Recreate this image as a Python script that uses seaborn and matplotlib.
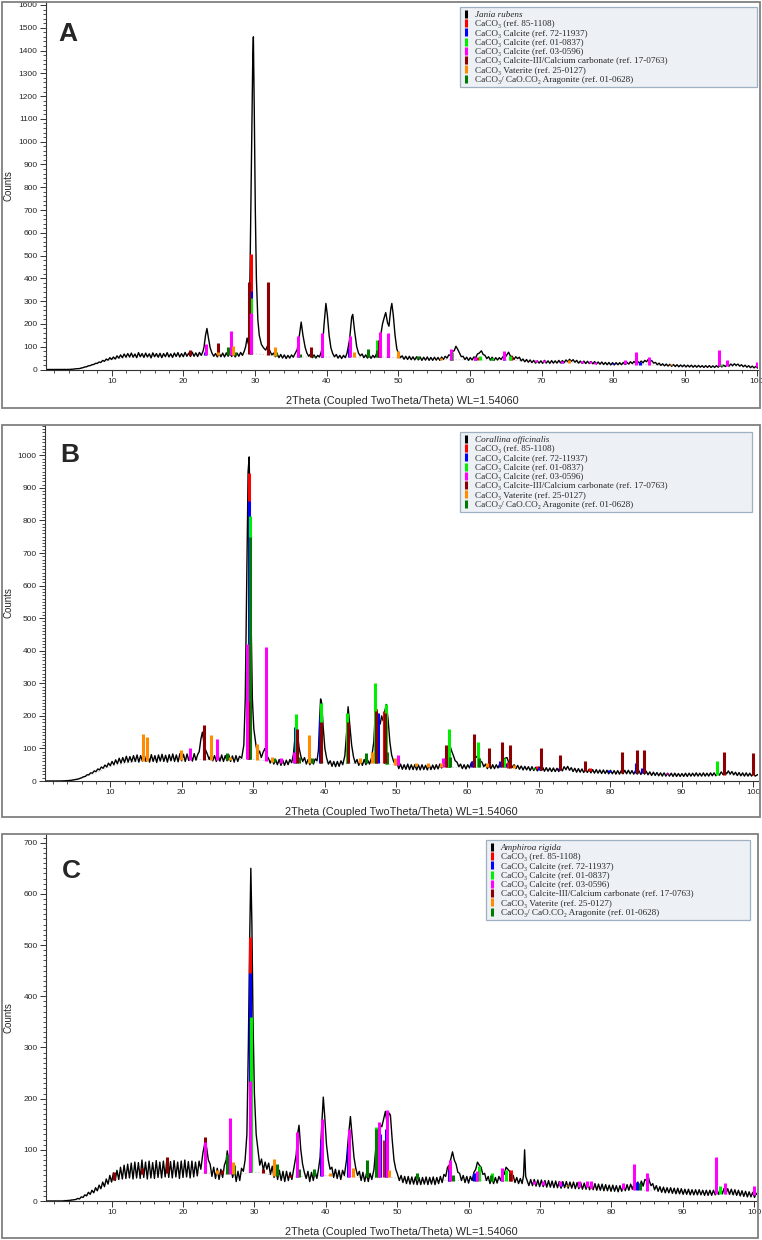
import matplotlib
matplotlib.use("Agg")
import matplotlib.pyplot as plt
import seaborn as sns
import pandas as pd
import numpy as np
from matplotlib.lines import Line2D
from matplotlib.patches import Rectangle
from matplotlib.ticker import MultipleLocator

W, H = 762, 1240

A_TRACE = [
    (1, 0), (2, 0), (3, 0), (4, 0), (4.5, 1), (5, 3), (5.5, 4), (6, 8), (6.25, 11), (6.5, 12), (6.75, 16),
    (7, 17), (7.25, 21), (7.5, 22), (7.75, 27), (8, 27), (8.25, 33), (8.5, 31), (8.75, 40), (9, 36),
    (9.25, 46), (9.5, 41), (9.75, 52), (10, 44), (10.25, 55), (10.5, 46), (10.75, 60), (11, 50),
    (11.25, 64), (11.5, 52), (11.75, 68), (12, 54), (12.25, 70), (12.5, 55), (12.75, 72), (13, 54),
    (13.25, 68), (13.5, 52), (13.75, 74), (14, 56), (14.25, 70), (14.5, 53), (14.75, 72), (15, 55),
    (15.25, 69), (15.5, 51), (15.75, 73), (16, 56), (16.25, 70), (16.5, 54), (16.75, 71), (17, 52),
    (17.25, 70), (17.5, 56), (17.75, 74), (18, 55), (18.25, 69), (18.5, 53), (18.75, 72), (19, 57),
    (19.25, 74), (19.5, 55), (19.75, 70), (20, 56), (20.25, 75), (20.5, 58), (20.75, 72), (21, 57),
    (21.25, 76), (21.5, 58), (21.75, 73), (22, 57), (22.25, 75), (22.5, 62), (22.75, 80), (22.9, 100),
    (23.1, 150), (23.3, 180), (23.5, 140), (23.75, 95), (24, 72), (24.25, 58), (24.5, 70), (24.75, 55),
    (25, 71), (25.25, 56), (25.5, 72), (25.75, 55), (26, 73), (26.25, 58), (26.5, 74), (26.75, 57),
    (27, 70), (27.25, 55), (27.5, 72), (27.75, 58), (28, 75), (28.25, 62), (28.5, 80), (28.7, 100),
    (28.9, 138), (29.1, 110), (29.3, 400), (29.5, 900), (29.7, 1380), (29.78, 1460), (29.9, 1150),
    (30.05, 700), (30.2, 400), (30.4, 220), (30.6, 150), (30.9, 110), (31.2, 95), (31.5, 85), (31.8, 108),
    (32.1, 80), (32.35, 64), (32.6, 72), (32.85, 56), (33.1, 68), (33.35, 52), (33.6, 66), (33.85, 50),
    (34.1, 64), (34.35, 48), (34.6, 62), (34.85, 50), (35.1, 64), (35.35, 54), (35.6, 70), (35.9, 88),
    (36.2, 150), (36.45, 208), (36.7, 150), (37, 98), (37.25, 72), (37.5, 58), (37.75, 68), (38, 52),
    (38.25, 64), (38.5, 50), (38.75, 62), (39, 55), (39.2, 72), (39.4, 95), (39.65, 200), (39.9, 290),
    (40.1, 240), (40.35, 150), (40.6, 95), (40.85, 70), (41.1, 56), (41.35, 66), (41.6, 50), (41.85, 62),
    (42.1, 48), (42.35, 62), (42.6, 52), (42.85, 72), (43.2, 130), (43.5, 230), (43.65, 242), (43.9, 170),
    (44.2, 100), (44.45, 72), (44.7, 60), (44.95, 68), (45.2, 52), (45.45, 64), (45.7, 50), (45.95, 62),
    (46.2, 49), (46.45, 62), (46.7, 52), (46.95, 68), (47.2, 90), (47.5, 140), (47.8, 200), (48.1, 235),
    (48.25, 250), (48.5, 205), (48.7, 190), (48.95, 265), (49.1, 290), (49.3, 240), (49.55, 150),
    (49.8, 90), (50.05, 68), (50.3, 52), (50.55, 60), (50.8, 45), (51.05, 58), (51.3, 44), (51.55, 58),
    (51.8, 43), (52.05, 56), (52.3, 42), (52.55, 56), (52.8, 42), (53.05, 55), (53.3, 40), (53.55, 54),
    (53.8, 41), (54.05, 55), (54.3, 40), (54.55, 53), (54.8, 40), (55.05, 54), (55.3, 41), (55.55, 53),
    (55.8, 40), (56.05, 55), (56.3, 44), (56.55, 58), (56.8, 50), (57.05, 64), (57.3, 62), (57.55, 80),
    (57.8, 82), (58.05, 102), (58.3, 88), (58.55, 72), (58.8, 56), (59.05, 58), (59.3, 44), (59.55, 54),
    (59.8, 40), (60.05, 52), (60.3, 42), (60.55, 55), (60.8, 52), (61.05, 68), (61.3, 72), (61.6, 82),
    (61.85, 66), (62.1, 62), (62.35, 48), (62.6, 56), (62.85, 42), (63.1, 54), (63.35, 40), (63.6, 52),
    (63.85, 42), (64.1, 52), (64.35, 44), (64.6, 56), (64.85, 50), (65.1, 62), (65.4, 76), (65.65, 58),
    (65.9, 58), (66.15, 44), (66.4, 56), (66.65, 48), (66.9, 54), (67.15, 38), (67.4, 46), (67.65, 34),
    (67.9, 44), (68.15, 32), (68.4, 42), (68.65, 30), (68.9, 40), (69.15, 28), (69.4, 38), (69.65, 28),
    (69.9, 38), (70.15, 27), (70.4, 40), (70.65, 28), (70.9, 38), (71.15, 27), (71.4, 39), (71.65, 28),
    (71.9, 38), (72.15, 28), (72.4, 40), (72.65, 29), (72.9, 39), (73.15, 30), (73.4, 42), (73.65, 34),
    (73.9, 45), (74.15, 36), (74.4, 43), (74.65, 32), (74.9, 40), (75.15, 28), (75.4, 37), (75.65, 27),
    (75.9, 37), (76.15, 26), (76.4, 36), (76.65, 26), (76.9, 35), (77.15, 25), (77.4, 35), (77.65, 24),
    (77.9, 33), (78.15, 23), (78.4, 33), (78.65, 22), (78.9, 31), (79.15, 21), (79.4, 31), (79.65, 20),
    (79.9, 30), (80.15, 20), (80.4, 30), (80.65, 21), (80.9, 30), (81.15, 21), (81.4, 31), (81.65, 22),
    (81.9, 32), (82.15, 24), (82.4, 34), (82.65, 26), (82.9, 35), (83.15, 27), (83.4, 36), (83.65, 28),
    (83.9, 37), (84.15, 29), (84.4, 40), (84.65, 34), (84.9, 45), (85.15, 40), (85.4, 38), (85.65, 28),
    (85.9, 31), (86.15, 21), (86.4, 28), (86.65, 18), (86.9, 25), (87.15, 16), (87.4, 24), (87.65, 15),
    (87.9, 23), (88.15, 14), (88.4, 22), (88.65, 13), (88.9, 21), (89.15, 12), (89.4, 20), (89.65, 12),
    (89.9, 20), (90.15, 11), (90.4, 19), (90.65, 11), (90.9, 19), (91.15, 10), (91.4, 18), (91.65, 10),
    (91.9, 18), (92.15, 10), (92.4, 17), (92.65, 9), (92.9, 17), (93.15, 9), (93.4, 17), (93.65, 9),
    (93.9, 16), (94.15, 9), (94.4, 17), (94.65, 10), (94.9, 18), (95.15, 11), (95.4, 19), (95.65, 13),
    (95.9, 21), (96.15, 15), (96.4, 24), (96.65, 17), (96.9, 25), (97.15, 18), (97.4, 24), (97.65, 15),
    (97.9, 21), (98.15, 12), (98.4, 19), (98.65, 10), (98.9, 17), (99.15, 8), (99.4, 15), (99.65, 7),
    (99.9, 14), (100.15, 6), (100.3, 12),
]

B_TRACE = [
    (1, 0), (2, 0), (3, 0), (4, 1), (4.5, 2), (5, 4), (5.5, 6), (6, 10), (6.25, 13), (6.5, 14), (6.75, 19),
    (7, 19), (7.25, 25), (7.5, 24), (7.75, 31), (8, 29), (8.25, 37), (8.5, 34), (8.75, 43), (9, 39),
    (9.25, 49), (9.5, 43), (9.75, 55), (10, 47), (10.25, 60), (10.5, 50), (10.75, 65), (11, 53),
    (11.25, 70), (11.5, 55), (11.75, 72), (12, 57), (12.25, 76), (12.5, 58), (12.75, 75), (13, 59),
    (13.25, 78), (13.5, 60), (13.75, 80), (14, 58), (14.25, 78), (14.5, 61), (14.75, 80), (15, 60),
    (15.25, 79), (15.5, 58), (15.75, 81), (16, 60), (16.25, 78), (16.5, 57), (16.75, 80), (17, 61),
    (17.25, 82), (17.5, 60), (17.75, 79), (18, 58), (18.25, 81), (18.5, 62), (18.75, 83), (19, 60),
    (19.25, 80), (19.5, 59), (19.75, 84), (20, 62), (20.25, 82), (20.5, 60), (20.75, 83), (21, 63),
    (21.25, 81), (21.5, 61), (21.75, 84), (22, 64), (22.25, 82), (22.45, 90), (22.7, 130), (22.9, 150),
    (23.1, 120), (23.35, 95), (23.6, 82), (23.85, 66), (24.1, 80), (24.35, 62), (24.6, 78), (24.85, 60),
    (25.1, 79), (25.35, 61), (25.6, 80), (25.85, 60), (26.1, 78), (26.35, 62), (26.6, 80), (26.85, 60),
    (27.1, 77), (27.35, 58), (27.6, 78), (27.85, 60), (28.1, 76), (28.4, 70), (28.7, 110), (28.9, 250),
    (29.1, 600), (29.3, 950), (29.45, 995), (29.6, 780), (29.75, 450), (29.9, 250), (30.1, 160),
    (30.4, 110), (30.65, 80), (30.9, 92), (31.15, 72), (31.4, 88), (31.65, 100), (31.9, 78), (32.15, 70),
    (32.4, 55), (32.65, 68), (32.9, 52), (33.15, 66), (33.4, 50), (33.65, 66), (33.9, 48), (34.15, 64),
    (34.4, 48), (34.65, 64), (34.9, 50), (35.15, 66), (35.4, 56), (35.65, 82), (35.85, 130), (36.0, 165),
    (36.2, 150), (36.45, 100), (36.7, 75), (36.95, 60), (37.2, 72), (37.45, 52), (37.7, 66), (37.95, 50),
    (38.2, 66), (38.45, 52), (38.7, 68), (38.95, 62), (39.15, 95), (39.3, 180), (39.45, 252), (39.6, 240),
    (39.8, 170), (40.05, 100), (40.3, 70), (40.55, 52), (40.8, 62), (41.05, 45), (41.3, 60), (41.55, 44),
    (41.8, 60), (42.05, 45), (42.3, 62), (42.55, 50), (42.85, 78), (43.1, 150), (43.3, 228), (43.5, 180),
    (43.8, 110), (44.05, 75), (44.3, 55), (44.55, 66), (44.8, 48), (45.05, 64), (45.3, 48), (45.55, 66),
    (45.8, 50), (46.05, 64), (46.3, 52), (46.6, 72), (46.9, 120), (47.1, 205), (47.3, 220), (47.55, 190),
    (47.8, 175), (48.0, 200), (48.2, 185), (48.45, 215), (48.65, 235), (48.9, 190), (49.15, 120),
    (49.4, 80), (49.65, 62), (49.9, 50), (50.15, 56), (50.4, 38), (50.65, 52), (50.9, 36), (51.15, 50),
    (51.4, 36), (51.65, 52), (51.9, 35), (52.15, 50), (52.4, 35), (52.65, 50), (52.9, 34), (53.15, 49),
    (53.4, 34), (53.65, 50), (53.9, 35), (54.15, 48), (54.4, 34), (54.65, 50), (54.9, 35), (55.15, 49),
    (55.4, 36), (55.65, 50), (55.9, 37), (56.15, 52), (56.4, 40), (56.65, 60), (56.9, 65), (57.15, 90),
    (57.35, 100), (57.55, 110), (57.8, 92), (58.05, 78), (58.3, 62), (58.55, 58), (58.8, 44), (59.05, 52),
    (59.3, 38), (59.55, 50), (59.8, 37), (60.05, 50), (60.3, 40), (60.55, 56), (60.8, 58), (61.05, 70),
    (61.3, 74), (61.55, 80), (61.8, 62), (62.05, 58), (62.3, 44), (62.55, 52), (62.8, 38), (63.05, 50),
    (63.3, 38), (63.55, 50), (63.8, 38), (64.05, 50), (64.3, 40), (64.55, 54), (64.8, 52), (65.05, 66),
    (65.3, 70), (65.55, 72), (65.8, 56), (66.05, 54), (66.3, 42), (66.55, 50), (66.8, 38), (67.05, 48),
    (67.3, 36), (67.55, 46), (67.8, 34), (68.05, 45), (68.3, 34), (68.55, 44), (68.8, 32), (69.05, 44),
    (69.3, 32), (69.55, 42), (69.8, 31), (70.05, 43), (70.3, 32), (70.55, 42), (70.8, 30), (71.05, 41),
    (71.3, 30), (71.55, 40), (71.8, 29), (72.05, 40), (72.3, 29), (72.55, 39), (72.8, 29), (73.05, 40),
    (73.3, 31), (73.55, 44), (73.8, 35), (74.05, 45), (74.3, 33), (74.55, 41), (74.8, 29), (75.05, 39),
    (75.3, 27), (75.55, 38), (75.8, 27), (76.05, 37), (76.3, 26), (76.55, 37), (76.8, 26), (77.05, 36),
    (77.3, 25), (77.55, 35), (77.8, 24), (78.05, 35), (78.3, 24), (78.55, 34), (78.8, 23), (79.05, 34),
    (79.3, 23), (79.55, 33), (79.8, 22), (80.05, 33), (80.3, 22), (80.55, 32), (80.8, 21), (81.05, 32),
    (81.3, 21), (81.55, 32), (81.8, 22), (82.05, 33), (82.3, 22), (82.55, 33), (82.8, 22), (83.05, 32),
    (83.3, 21), (83.55, 32), (83.8, 21), (84.05, 31), (84.3, 20), (84.55, 31), (84.8, 21), (85.05, 30),
    (85.3, 19), (85.55, 28), (85.8, 17), (86.05, 27), (86.3, 17), (86.55, 26), (86.8, 16), (87.05, 25),
    (87.3, 15), (87.55, 25), (87.8, 15), (88.05, 24), (88.3, 15), (88.55, 24), (88.8, 14), (89.05, 24),
    (89.3, 14), (89.55, 23), (89.8, 14), (90.05, 23), (90.3, 14), (90.55, 24), (90.8, 14), (91.05, 24),
    (91.3, 15), (91.55, 24), (91.8, 15), (92.05, 25), (92.3, 15), (92.55, 24), (92.8, 15), (93.05, 25),
    (93.3, 15), (93.55, 24), (93.8, 15), (94.05, 25), (94.3, 16), (94.55, 25), (94.8, 16), (95.05, 26),
    (95.3, 18), (95.55, 28), (95.8, 20), (96.05, 30), (96.3, 22), (96.55, 31), (96.8, 21), (97.05, 29),
    (97.3, 19), (97.55, 27), (97.8, 17), (98.05, 26), (98.3, 16), (98.55, 25), (98.8, 15), (99.05, 25),
    (99.3, 15), (99.55, 24), (99.8, 15), (100.05, 24), (100.3, 15), (100.7, 20),
]

C_TRACE = [
    (1, 0), (2, 0), (3, 0), (4, 1), (4.5, 2), (5, 3), (5.25, 5), (5.5, 4), (5.75, 8), (6, 7), (6.25, 12),
    (6.5, 10), (6.75, 17), (7, 13), (7.25, 21), (7.5, 16), (7.75, 26), (8, 20), (8.25, 31), (8.5, 24),
    (8.75, 37), (9, 28), (9.25, 43), (9.5, 33), (9.75, 50), (10, 37), (10.25, 55), (10.5, 40), (10.75, 60),
    (11, 42), (11.25, 66), (11.5, 43), (11.75, 70), (12, 44), (12.25, 72), (12.5, 45), (12.75, 74),
    (13, 43), (13.25, 76), (13.5, 45), (13.75, 75), (14, 44), (14.25, 80), (14.5, 46), (14.75, 76),
    (15, 43), (15.25, 78), (15.5, 45), (15.75, 75), (16, 44), (16.25, 79), (16.5, 46), (16.75, 76),
    (17, 45), (17.25, 78), (17.5, 47), (17.75, 82), (18, 46), (18.25, 77), (18.5, 45), (18.75, 79),
    (19, 47), (19.25, 76), (19.5, 44), (19.75, 78), (20, 46), (20.25, 80), (20.5, 47), (20.75, 77),
    (21, 45), (21.25, 78), (21.5, 47), (21.75, 76), (22, 49), (22.25, 78), (22.5, 62), (22.8, 95),
    (23.05, 112), (23.3, 105), (23.55, 80), (23.8, 72), (24.05, 48), (24.3, 66), (24.55, 44), (24.8, 64),
    (25.05, 42), (25.3, 62), (25.55, 46), (25.8, 70), (26.05, 80), (26.2, 98), (26.45, 72), (26.7, 68),
    (26.95, 46), (27.2, 62), (27.45, 38), (27.7, 58), (27.95, 40), (28.2, 64), (28.45, 58), (28.7, 80),
    (28.95, 130), (29.15, 300), (29.35, 520), (29.5, 650), (29.65, 540), (29.8, 360), (30.0, 210),
    (30.25, 130), (30.5, 100), (30.75, 70), (31.0, 82), (31.25, 60), (31.5, 76), (31.75, 62), (32.0, 74),
    (32.25, 52), (32.5, 68), (32.75, 46), (33.0, 64), (33.25, 42), (33.5, 60), (33.75, 40), (34.0, 58),
    (34.25, 38), (34.5, 58), (34.75, 40), (35.0, 56), (35.25, 42), (35.5, 62), (35.85, 90), (36.1, 135),
    (36.25, 148), (36.5, 100), (36.75, 72), (37.0, 56), (37.25, 44), (37.5, 58), (37.75, 38), (38.0, 56),
    (38.25, 40), (38.5, 58), (38.75, 44), (39.0, 64), (39.2, 85), (39.4, 140), (39.65, 203), (39.85, 165),
    (40.1, 110), (40.35, 80), (40.6, 62), (40.85, 66), (41.1, 46), (41.35, 62), (41.6, 44), (41.85, 60),
    (42.1, 42), (42.35, 60), (42.6, 50), (42.9, 80), (43.2, 130), (43.45, 165), (43.7, 125), (43.95, 85),
    (44.2, 64), (44.45, 50), (44.7, 58), (44.95, 40), (45.2, 56), (45.45, 38), (45.7, 54), (45.95, 38),
    (46.2, 54), (46.45, 42), (46.75, 62), (47.05, 110), (47.35, 140), (47.6, 150), (47.85, 145),
    (48.1, 160), (48.35, 175), (48.6, 150), (48.85, 172), (49.05, 168), (49.3, 120), (49.55, 80),
    (49.8, 62), (50.05, 52), (50.3, 40), (50.55, 50), (50.8, 36), (51.05, 48), (51.3, 34), (51.55, 48),
    (51.8, 33), (52.05, 47), (52.3, 33), (52.55, 47), (52.8, 32), (53.05, 46), (53.3, 32), (53.55, 46),
    (53.8, 33), (54.05, 47), (54.3, 32), (54.55, 46), (54.8, 33), (55.05, 47), (55.3, 32), (55.55, 46),
    (55.8, 34), (56.05, 48), (56.3, 36), (56.55, 52), (56.8, 48), (57.05, 66), (57.3, 70), (57.55, 84),
    (57.75, 96), (58.0, 80), (58.25, 72), (58.5, 56), (58.75, 54), (59.0, 40), (59.25, 50), (59.5, 36),
    (59.75, 48), (60.0, 35), (60.25, 48), (60.5, 40), (60.75, 56), (61.0, 62), (61.25, 76), (61.5, 70),
    (61.75, 66), (62.0, 52), (62.25, 54), (62.5, 40), (62.75, 48), (63.0, 34), (63.25, 46), (63.5, 34),
    (63.75, 46), (64.0, 35), (64.25, 48), (64.5, 40), (64.75, 56), (65.0, 52), (65.25, 66), (65.5, 62),
    (65.75, 58), (66.0, 44), (66.25, 50), (66.5, 36), (66.75, 46), (67.0, 34), (67.25, 44), (67.5, 34),
    (67.7, 50), (67.85, 100), (68.0, 48), (68.2, 40), (68.45, 30), (68.7, 42), (68.95, 30), (69.2, 42),
    (69.45, 29), (69.7, 41), (69.95, 28), (70.2, 41), (70.45, 28), (70.7, 40), (70.95, 27), (71.2, 40),
    (71.45, 27), (71.7, 39), (71.95, 26), (72.2, 39), (72.45, 26), (72.7, 38), (72.95, 25), (73.2, 38),
    (73.45, 26), (73.7, 38), (73.95, 25), (74.2, 37), (74.45, 25), (74.7, 37), (74.95, 24), (75.2, 36),
    (75.45, 24), (75.7, 36), (75.95, 23), (76.2, 35), (76.45, 23), (76.7, 35), (76.95, 22), (77.2, 34),
    (77.45, 22), (77.7, 34), (77.95, 21), (78.2, 33), (78.45, 21), (78.7, 33), (78.95, 20), (79.2, 32),
    (79.45, 20), (79.7, 31), (79.95, 19), (80.2, 31), (80.45, 19), (80.7, 30), (80.95, 18), (81.2, 30),
    (81.45, 19), (81.7, 31), (81.95, 20), (82.2, 32), (82.45, 21), (82.7, 33), (82.95, 23), (83.2, 35),
    (83.45, 25), (83.7, 37), (83.95, 27), (84.2, 39), (84.45, 29), (84.7, 42), (84.95, 40), (85.1, 52),
    (85.3, 40), (85.55, 30), (85.8, 34), (86.05, 22), (86.3, 30), (86.55, 19), (86.8, 28), (87.05, 17),
    (87.3, 27), (87.55, 16), (87.8, 26), (88.05, 16), (88.3, 26), (88.55, 15), (88.8, 25), (89.05, 14),
    (89.3, 25), (89.55, 14), (89.8, 24), (90.05, 13), (90.3, 23), (90.55, 13), (90.8, 23), (91.05, 12),
    (91.3, 22), (91.55, 12), (91.8, 22), (92.05, 12), (92.3, 22), (92.55, 12), (92.8, 21), (93.05, 11),
    (93.3, 21), (93.55, 11), (93.8, 21), (94.05, 11), (94.3, 21), (94.55, 12), (94.8, 22), (95.05, 13),
    (95.3, 24), (95.55, 14), (95.8, 25), (96.05, 14), (96.3, 24), (96.55, 13), (96.8, 23), (97.05, 12),
    (97.3, 22), (97.55, 11), (97.8, 21), (98.05, 10), (98.3, 20), (98.55, 9), (98.8, 19), (99.05, 8),
    (99.3, 18), (99.55, 8), (99.8, 17), (100.05, 7), (100.3, 15), (100.5, 12),
]

# fitted background under the patterns (stick feet sit on it)
A_BG = [(1, 0), (5, 3), (8, 25), (10, 45), (14, 58), (20, 62), (28, 66), (29.5, 70), (31, 66), (34, 55),
        (40, 55), (45, 54), (48, 55), (50, 50), (55, 44), (60, 42), (65, 42), (70, 32), (80, 24),
        (90, 16), (100, 12)]
B_BG = [(1, 0), (5, 3), (8, 25), (10, 45), (14, 62), (20, 66), (28, 66), (29.5, 68), (31, 64), (34, 56),
        (40, 56), (45, 54), (48, 56), (50, 48), (55, 42), (60, 42), (65, 42), (70, 35), (80, 27),
        (90, 20), (100, 18)]
C_BG = [(1, 0), (5, 3), (8, 22), (10, 40), (14, 52), (20, 56), (28, 52), (29.5, 56), (31, 55), (34, 46),
        (40, 50), (45, 46), (48, 47), (50, 45), (55, 40), (60, 40), (65, 40), (70, 32), (80, 24),
        (90, 17), (100, 12)]

# ---------------- reference sticks (2theta, top counts) ----------------
A_RED = [(21.0, 75), (29.4, 505), (39.4, 70), (47.3, 120), (48.6, 95), (57.5, 70), (61.0, 55), (65.8, 58)]
A_BLUE = [(23.0, 75), (29.4, 345), (36.0, 70), (39.4, 85), (43.1, 95), (47.5, 105), (48.5, 95),
          (57.4, 65), (60.7, 55), (64.7, 62), (72.9, 35), (79.9, 30), (83.8, 35)]
A_LIME = [(29.45, 315), (47.1, 130), (57.5, 75), (61.4, 60), (63.1, 50), (65.6, 58), (95.0, 25)]
A_MAGENTA = [(23.1, 110), (26.6, 170), (29.45, 250), (36.0, 145), (39.4, 160), (43.2, 145), (47.5, 165),
             (48.5, 160), (57.4, 90), (60.7, 55), (64.7, 80), (69.2, 42), (70.4, 40), (72.9, 38),
             (75.6, 36), (76.8, 38), (77.4, 35), (81.7, 40), (83.2, 75), (85.0, 55), (94.7, 85),
             (95.9, 40), (100.0, 32)]
A_DARKRED = [(21.0, 85), (24.9, 115), (29.2, 385), (31.8, 385), (37.8, 97), (47.3, 130)]
A_ORANGE = [(20.9, 62), (24.8, 75), (27.0, 105), (32.8, 100), (43.8, 78), (49.9, 80), (56.0, 52),
            (73.8, 40), (88.0, 22)]
A_GREEN = [(26.3, 100), (27.2, 75), (33.0, 78), (36.3, 70), (38.3, 60), (45.8, 90), (47.0, 85),
           (52.8, 60), (63.0, 48)]

B_RED = [(29.4, 945), (47.2, 220), (48.3, 215), (57.1, 90), (61.0, 60), (65.7, 58), (69.7, 45), (77.2, 40)]
B_BLUE = [(29.42, 860), (35.9, 165), (39.35, 200), (43.1, 180), (47.5, 210), (48.5, 200), (57.4, 72),
          (60.7, 62), (64.6, 62), (65.3, 55), (70.1, 42), (72.9, 40), (79.9, 33), (83.6, 55), (84.5, 40)]
B_LIME = [(29.5, 815), (36.0, 205), (39.45, 240), (43.2, 210), (47.1, 300), (48.6, 235), (57.45, 160),
          (61.5, 120), (65.1, 70), (69.3, 40), (95.0, 62)]
B_MAGENTA = [(21.1, 102), (25.0, 128), (29.1, 420), (31.8, 410), (33.9, 70), (35.7, 90), (50.3, 80),
             (56.6, 70), (88.0, 25)]
B_DARKRED = [(23.1, 172), (29.35, 245), (36.1, 160), (39.5, 180), (43.3, 180), (47.25, 215), (48.5, 210),
             (57.0, 110), (60.9, 145), (63.1, 100), (64.9, 120), (66.0, 110), (70.3, 100), (73.0, 80),
             (76.5, 60), (81.7, 90), (83.8, 95), (84.8, 95), (95.9, 90), (100.0, 85)]
B_ORANGE = [(14.6, 145), (15.2, 135), (19.9, 95), (24.1, 142), (26.8, 75), (30.5, 115), (32.7, 75),
            (37.8, 140), (44.9, 72), (46.6, 88), (49.9, 70), (52.8, 55), (54.5, 55), (56.3, 55),
            (62.8, 55), (66.5, 50)]
B_GREEN = [(26.3, 85), (29.55, 750), (32.9, 70), (36.4, 75), (38.3, 70), (45.8, 85), (48.7, 90),
           (52.8, 52), (57.6, 75), (61.6, 70)]

C_RED = [(29.42, 515), (47.3, 105), (48.1, 120), (57.3, 70), (61.0, 55), (65.9, 60), (77.2, 35)]
C_BLUE = [(29.4, 445), (36.0, 60), (39.3, 120), (43.1, 105), (47.6, 130), (48.5, 140), (57.2, 62),
          (60.7, 55), (64.7, 58), (73.0, 35), (83.6, 38)]
C_LIME = [(29.5, 360), (47.1, 145), (61.5, 68), (63.3, 55), (65.3, 60), (95.2, 30)]
C_MAGENTA = [(23.1, 115), (26.6, 163), (29.45, 235), (36.0, 135), (39.4, 160), (43.2, 140), (47.5, 155),
             (48.6, 178), (57.4, 80), (61.2, 58), (64.7, 65), (69.2, 40), (70.4, 40), (72.8, 40),
             (75.5, 40), (76.6, 40), (77.1, 40), (81.7, 35), (83.2, 72), (85.0, 55), (94.7, 85),
             (95.9, 35), (100.0, 30)]
C_DARKRED = [(10.4, 56), (14.3, 64), (17.8, 86), (23.05, 125), (25.4, 60), (31.2, 62), (35.0, 50), (65.8, 55)]
C_ORANGE = [(24.8, 60), (27.0, 76), (32.8, 82), (40.6, 55), (43.8, 65), (48.8, 60), (69.9, 32), (73.8, 32)]
C_GREEN = [(26.2, 92), (27.2, 70), (33.1, 72), (36.3, 62), (38.3, 62), (45.8, 80), (47.0, 140),
           (52.8, 55), (57.8, 50), (63.1, 50), (84.0, 36)]

SAMPLES = ["Jania rubens", "Corallina officinalis", "Amphiroa rigida"]
PANEL_LETTERS = ["A", "B", "C"]
PHASES = [
    "CaCO₃ (ref. 85-1108)",
    "CaCO₃ Calcite (ref. 72-11937)",
    "CaCO₃ Calcite (ref. 01-0837)",
    "CaCO₃ Calcite (ref. 03-0596)",
    "CaCO₃ Calcite-III/Calcium carbonate (ref. 17-0763)",
    "CaCO₃ Vaterite (ref. 25-0127)",
    "CaCO₃/ CaO.CO₂ Aragonite (ref. 01-0628)",
]
PHASE_COLORS = ["#ff0000", "#0000ff", "#00ee00", "#ff00ff", "#8b0000", "#ff8c00", "#007a00"]

TRACES = [A_TRACE, B_TRACE, C_TRACE]
BACKGROUNDS = [A_BG, B_BG, C_BG]
STICKS = [
    [A_RED, A_BLUE, A_LIME, A_MAGENTA, A_DARKRED, A_ORANGE, A_GREEN],
    [B_RED, B_BLUE, B_LIME, B_MAGENTA, B_DARKRED, B_ORANGE, B_GREEN],
    [C_RED, C_BLUE, C_LIME, C_MAGENTA, C_DARKRED, C_ORANGE, C_GREEN],
]

# ---------------- layout in pixels ----------------
LAYOUT = [
    dict(frame=(2, 2, 760, 408), axes=(46, 2, 758, 369.5), xlim=(0.84, 100.2), ylim=(0, 1613),
         yminor=20, legend=(460, 7, 757), letter=(68, 34)),
    dict(frame=(2, 425, 760, 817), axes=(45, 425, 758, 781), xlim=(0.86, 100.7), ylim=(0, 1093),
         yminor=10, legend=(460, 432, 752), letter=(70, 455)),
    dict(frame=(2, 834, 758, 1238), axes=(46, 834, 757, 1201), xlim=(0.81, 100.4), ylim=(0, 717),
         yminor=10, legend=(486, 840, 750), letter=(71, 871)),
]
# drawing order so that the stacked sticks at 29.4 show like the original
DRAW_ORDER = [0, 1, 2, 6, 4, 3, 5]

sns.set_theme(style="ticks")
plt.rcParams["font.family"] = ["Liberation Sans", "DejaVu Sans"]


def to_fig(left, top, right, bottom):
    return [left / W, 1 - bottom / H, (right - left) / W, (bottom - top) / H]


fig = plt.figure(figsize=(W / 100, H / 100), dpi=100)

for i in range(3):
    lay = LAYOUT[i]
    ax = fig.add_axes(to_fig(*lay["axes"]))

    trace = pd.DataFrame(TRACES[i], columns=["two_theta", "counts"])
    bg = pd.DataFrame(BACKGROUNDS[i], columns=["two_theta", "counts"])

    ax.plot(bg["two_theta"], bg["counts"], color="#c8c8c8", lw=0.6, ls=(0, (2, 2)), zorder=1)
    sns.lineplot(data=trace, x="two_theta", y="counts", ax=ax, color="black", lw=1.0,
                 sort=False, estimator=None, zorder=2)

    for k in DRAW_ORDER:
        sticks = pd.DataFrame(STICKS[i][k], columns=["two_theta", "top"])
        feet = np.interp(sticks["two_theta"], bg["two_theta"], bg["counts"])
        ax.vlines(sticks["two_theta"], feet, sticks["top"], color=PHASE_COLORS[k], lw=2.2, zorder=3)

    ax.set_xlim(*lay["xlim"])
    ax.set_ylim(*lay["ylim"])
    ax.xaxis.set_major_locator(MultipleLocator(10))
    ax.xaxis.set_minor_locator(MultipleLocator(2))
    ax.yaxis.set_major_locator(MultipleLocator(100))
    ax.yaxis.set_minor_locator(MultipleLocator(lay["yminor"]))
    ax.tick_params(axis="both", which="major", length=4, width=0.7, labelsize=6, pad=2, color="#333333")
    ax.tick_params(axis="both", which="minor", length=2, width=0.6, color="#333333")
    ax.xaxis.set_major_formatter(lambda v, p: f"{v:.0f}" if v > 0 else "")
    for side in ["top", "right"]:
        ax.spines[side].set_visible(False)
    for side in ["left", "bottom"]:
        ax.spines[side].set_linewidth(0.8)
        ax.spines[side].set_color("#333333")

    ax.set_ylabel("Counts", fontsize=7)
    ax.set_xlabel("2Theta (Coupled TwoTheta/Theta) WL=1.54060", fontsize=7.8)
    ax_h = lay["axes"][3] - lay["axes"][1]
    ax_w = lay["axes"][2] - lay["axes"][0]
    ax.yaxis.set_label_coords((14 - lay["axes"][0]) / ax_w, 0.5)
    ax.xaxis.set_label_coords(0.5, -26 / ax_h)

    handles = [Line2D([], [], ls="None", marker="|", markersize=5.5, markeredgewidth=2.2, color="black")]
    handles += [Line2D([], [], ls="None", marker="|", markersize=5.5, markeredgewidth=2.2, color=c)
                for c in PHASE_COLORS]
    labels = [SAMPLES[i]] + PHASES
    lx0, ly0, lx1 = lay["legend"]
    leg = ax.legend(handles, labels, loc="upper left", mode="expand",
                    bbox_to_anchor=(lx0 / W, 1 - ly0 / H, (lx1 - lx0) / W, 0.0),
                    bbox_transform=fig.transFigure, borderaxespad=0,
                    prop={"family": ["Liberation Serif", "DejaVu Serif"], "size": 6.6},
                    labelspacing=0.09, handlelength=0.5, handletextpad=0.7, borderpad=0.4,
                    fancybox=False, framealpha=1, facecolor="#edf1f5", edgecolor="#9fb0c2")
    leg.get_frame().set_linewidth(0.9)
    leg.get_texts()[0].set_style("italic")

    fig.text(lay["letter"][0] / W, 1 - lay["letter"][1] / H, PANEL_LETTERS[i], ha="center", va="center",
             fontsize=19, fontweight="bold", family=["Liberation Sans Narrow", "Liberation Sans"])

    fx0, fy0, fx1, fy1 = lay["frame"]
    fig.add_artist(Rectangle((fx0 / W, 1 - fy1 / H), (fx1 - fx0) / W, (fy1 - fy0) / H,
                             transform=fig.transFigure, fill=False, edgecolor="#808080", lw=1.3))

fig.savefig("out.png", dpi=100)
